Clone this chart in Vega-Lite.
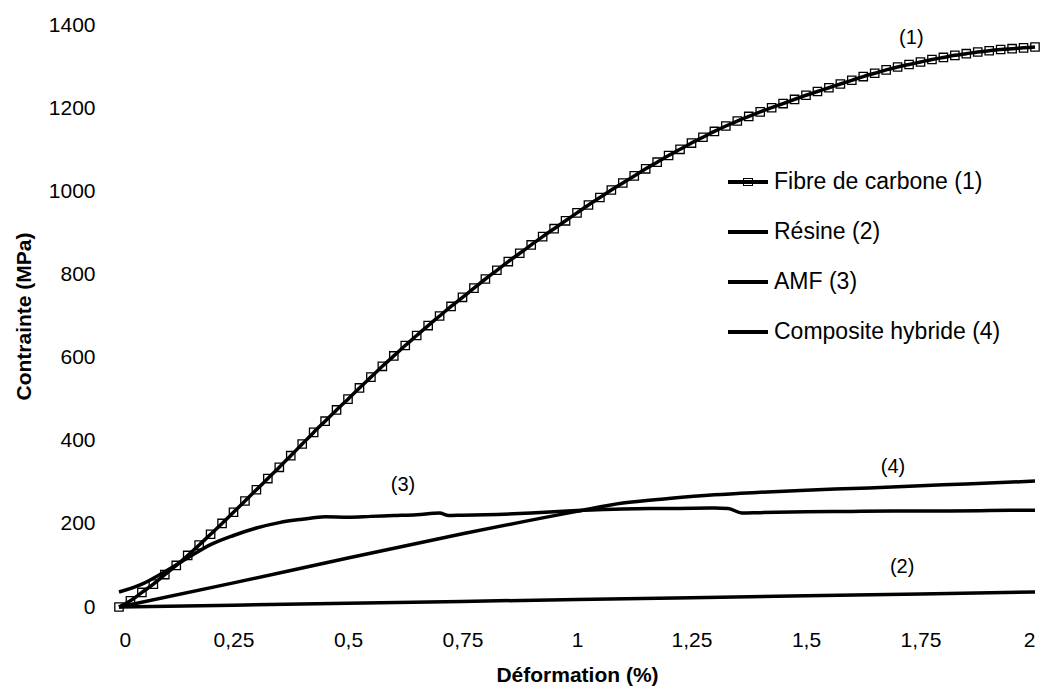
{
  "$schema": "https://vega.github.io/schema/vega-lite/v6.json",
  "width": 916,
  "height": 582,
  "autosize": {"type": "none"},
  "padding": {"left": 119, "top": 25, "right": 11, "bottom": 87},
  "background": "white",
  "config": {
    "view": {"stroke": null},
    "font": "Liberation Sans"
  },
  "datasets": {
    "curves": [
      {"serie": "Fibre de carbone (1)", "def": 0, "contrainte": 0},
      {"serie": "Fibre de carbone (1)", "def": 0.025, "contrainte": 15},
      {"serie": "Fibre de carbone (1)", "def": 0.05, "contrainte": 35},
      {"serie": "Fibre de carbone (1)", "def": 0.075, "contrainte": 55},
      {"serie": "Fibre de carbone (1)", "def": 0.1, "contrainte": 78},
      {"serie": "Fibre de carbone (1)", "def": 0.125, "contrainte": 100},
      {"serie": "Fibre de carbone (1)", "def": 0.15, "contrainte": 124},
      {"serie": "Fibre de carbone (1)", "def": 0.175, "contrainte": 149},
      {"serie": "Fibre de carbone (1)", "def": 0.2, "contrainte": 175},
      {"serie": "Fibre de carbone (1)", "def": 0.225, "contrainte": 201},
      {"serie": "Fibre de carbone (1)", "def": 0.25, "contrainte": 228},
      {"serie": "Fibre de carbone (1)", "def": 0.275, "contrainte": 255},
      {"serie": "Fibre de carbone (1)", "def": 0.3, "contrainte": 282},
      {"serie": "Fibre de carbone (1)", "def": 0.325, "contrainte": 309},
      {"serie": "Fibre de carbone (1)", "def": 0.35, "contrainte": 336},
      {"serie": "Fibre de carbone (1)", "def": 0.375, "contrainte": 364},
      {"serie": "Fibre de carbone (1)", "def": 0.4, "contrainte": 392},
      {"serie": "Fibre de carbone (1)", "def": 0.425, "contrainte": 420},
      {"serie": "Fibre de carbone (1)", "def": 0.45, "contrainte": 447},
      {"serie": "Fibre de carbone (1)", "def": 0.475, "contrainte": 474},
      {"serie": "Fibre de carbone (1)", "def": 0.5, "contrainte": 500},
      {"serie": "Fibre de carbone (1)", "def": 0.525, "contrainte": 527},
      {"serie": "Fibre de carbone (1)", "def": 0.55, "contrainte": 553},
      {"serie": "Fibre de carbone (1)", "def": 0.575, "contrainte": 579},
      {"serie": "Fibre de carbone (1)", "def": 0.6, "contrainte": 604},
      {"serie": "Fibre de carbone (1)", "def": 0.625, "contrainte": 629},
      {"serie": "Fibre de carbone (1)", "def": 0.65, "contrainte": 653},
      {"serie": "Fibre de carbone (1)", "def": 0.675, "contrainte": 677},
      {"serie": "Fibre de carbone (1)", "def": 0.7, "contrainte": 700},
      {"serie": "Fibre de carbone (1)", "def": 0.725, "contrainte": 723},
      {"serie": "Fibre de carbone (1)", "def": 0.75, "contrainte": 745},
      {"serie": "Fibre de carbone (1)", "def": 0.775, "contrainte": 767},
      {"serie": "Fibre de carbone (1)", "def": 0.8, "contrainte": 789},
      {"serie": "Fibre de carbone (1)", "def": 0.825, "contrainte": 810},
      {"serie": "Fibre de carbone (1)", "def": 0.85, "contrainte": 831},
      {"serie": "Fibre de carbone (1)", "def": 0.875, "contrainte": 851},
      {"serie": "Fibre de carbone (1)", "def": 0.9, "contrainte": 871},
      {"serie": "Fibre de carbone (1)", "def": 0.925, "contrainte": 891},
      {"serie": "Fibre de carbone (1)", "def": 0.95, "contrainte": 910},
      {"serie": "Fibre de carbone (1)", "def": 0.975, "contrainte": 929},
      {"serie": "Fibre de carbone (1)", "def": 1.0, "contrainte": 948},
      {"serie": "Fibre de carbone (1)", "def": 1.025, "contrainte": 967},
      {"serie": "Fibre de carbone (1)", "def": 1.05, "contrainte": 985},
      {"serie": "Fibre de carbone (1)", "def": 1.075, "contrainte": 1003},
      {"serie": "Fibre de carbone (1)", "def": 1.1, "contrainte": 1020},
      {"serie": "Fibre de carbone (1)", "def": 1.125, "contrainte": 1037},
      {"serie": "Fibre de carbone (1)", "def": 1.15, "contrainte": 1054},
      {"serie": "Fibre de carbone (1)", "def": 1.175, "contrainte": 1070},
      {"serie": "Fibre de carbone (1)", "def": 1.2, "contrainte": 1086},
      {"serie": "Fibre de carbone (1)", "def": 1.225, "contrainte": 1101},
      {"serie": "Fibre de carbone (1)", "def": 1.25, "contrainte": 1116},
      {"serie": "Fibre de carbone (1)", "def": 1.275, "contrainte": 1130},
      {"serie": "Fibre de carbone (1)", "def": 1.3, "contrainte": 1144},
      {"serie": "Fibre de carbone (1)", "def": 1.325, "contrainte": 1157},
      {"serie": "Fibre de carbone (1)", "def": 1.35, "contrainte": 1169},
      {"serie": "Fibre de carbone (1)", "def": 1.375, "contrainte": 1180},
      {"serie": "Fibre de carbone (1)", "def": 1.4, "contrainte": 1191},
      {"serie": "Fibre de carbone (1)", "def": 1.425, "contrainte": 1201},
      {"serie": "Fibre de carbone (1)", "def": 1.45, "contrainte": 1211},
      {"serie": "Fibre de carbone (1)", "def": 1.475, "contrainte": 1221},
      {"serie": "Fibre de carbone (1)", "def": 1.5, "contrainte": 1231},
      {"serie": "Fibre de carbone (1)", "def": 1.525, "contrainte": 1240},
      {"serie": "Fibre de carbone (1)", "def": 1.55, "contrainte": 1249},
      {"serie": "Fibre de carbone (1)", "def": 1.575, "contrainte": 1258},
      {"serie": "Fibre de carbone (1)", "def": 1.6, "contrainte": 1267},
      {"serie": "Fibre de carbone (1)", "def": 1.625, "contrainte": 1276},
      {"serie": "Fibre de carbone (1)", "def": 1.65, "contrainte": 1284},
      {"serie": "Fibre de carbone (1)", "def": 1.675, "contrainte": 1292},
      {"serie": "Fibre de carbone (1)", "def": 1.7, "contrainte": 1299},
      {"serie": "Fibre de carbone (1)", "def": 1.725, "contrainte": 1305},
      {"serie": "Fibre de carbone (1)", "def": 1.75, "contrainte": 1311},
      {"serie": "Fibre de carbone (1)", "def": 1.775, "contrainte": 1317},
      {"serie": "Fibre de carbone (1)", "def": 1.8, "contrainte": 1322},
      {"serie": "Fibre de carbone (1)", "def": 1.825, "contrainte": 1327},
      {"serie": "Fibre de carbone (1)", "def": 1.85, "contrainte": 1331},
      {"serie": "Fibre de carbone (1)", "def": 1.875, "contrainte": 1335},
      {"serie": "Fibre de carbone (1)", "def": 1.9, "contrainte": 1338},
      {"serie": "Fibre de carbone (1)", "def": 1.925, "contrainte": 1341},
      {"serie": "Fibre de carbone (1)", "def": 1.95, "contrainte": 1343},
      {"serie": "Fibre de carbone (1)", "def": 1.975, "contrainte": 1345},
      {"serie": "Fibre de carbone (1)", "def": 2.0, "contrainte": 1347},
      {"serie": "Résine (2)", "def": 0, "contrainte": 0},
      {"serie": "Résine (2)", "def": 0.5, "contrainte": 9},
      {"serie": "Résine (2)", "def": 1.0, "contrainte": 18},
      {"serie": "Résine (2)", "def": 1.5, "contrainte": 27},
      {"serie": "Résine (2)", "def": 2.0, "contrainte": 36},
      {"serie": "AMF (3)", "def": 0, "contrainte": 36},
      {"serie": "AMF (3)", "def": 0.05, "contrainte": 55},
      {"serie": "AMF (3)", "def": 0.1, "contrainte": 85},
      {"serie": "AMF (3)", "def": 0.15, "contrainte": 118},
      {"serie": "AMF (3)", "def": 0.2, "contrainte": 150},
      {"serie": "AMF (3)", "def": 0.25, "contrainte": 172},
      {"serie": "AMF (3)", "def": 0.3, "contrainte": 190},
      {"serie": "AMF (3)", "def": 0.35, "contrainte": 203},
      {"serie": "AMF (3)", "def": 0.4, "contrainte": 211},
      {"serie": "AMF (3)", "def": 0.45, "contrainte": 217},
      {"serie": "AMF (3)", "def": 0.5, "contrainte": 216},
      {"serie": "AMF (3)", "def": 0.55, "contrainte": 218},
      {"serie": "AMF (3)", "def": 0.6, "contrainte": 220},
      {"serie": "AMF (3)", "def": 0.65, "contrainte": 222},
      {"serie": "AMF (3)", "def": 0.7, "contrainte": 226},
      {"serie": "AMF (3)", "def": 0.72, "contrainte": 220},
      {"serie": "AMF (3)", "def": 0.75, "contrainte": 221},
      {"serie": "AMF (3)", "def": 0.8, "contrainte": 222},
      {"serie": "AMF (3)", "def": 0.9, "contrainte": 226},
      {"serie": "AMF (3)", "def": 1.0, "contrainte": 232},
      {"serie": "AMF (3)", "def": 1.1, "contrainte": 236},
      {"serie": "AMF (3)", "def": 1.2, "contrainte": 237},
      {"serie": "AMF (3)", "def": 1.3, "contrainte": 238},
      {"serie": "AMF (3)", "def": 1.33, "contrainte": 237},
      {"serie": "AMF (3)", "def": 1.36, "contrainte": 226},
      {"serie": "AMF (3)", "def": 1.4, "contrainte": 227},
      {"serie": "AMF (3)", "def": 1.5, "contrainte": 229},
      {"serie": "AMF (3)", "def": 1.6, "contrainte": 230},
      {"serie": "AMF (3)", "def": 1.7, "contrainte": 231},
      {"serie": "AMF (3)", "def": 1.8, "contrainte": 231},
      {"serie": "AMF (3)", "def": 1.9, "contrainte": 232},
      {"serie": "AMF (3)", "def": 2.0, "contrainte": 233},
      {"serie": "Composite hybride (4)", "def": 0, "contrainte": 0},
      {"serie": "Composite hybride (4)", "def": 0.25, "contrainte": 58},
      {"serie": "Composite hybride (4)", "def": 0.5, "contrainte": 118},
      {"serie": "Composite hybride (4)", "def": 0.75, "contrainte": 176},
      {"serie": "Composite hybride (4)", "def": 1.0, "contrainte": 230},
      {"serie": "Composite hybride (4)", "def": 1.1, "contrainte": 250},
      {"serie": "Composite hybride (4)", "def": 1.2, "contrainte": 261},
      {"serie": "Composite hybride (4)", "def": 1.3, "contrainte": 270},
      {"serie": "Composite hybride (4)", "def": 1.4, "contrainte": 276},
      {"serie": "Composite hybride (4)", "def": 1.5, "contrainte": 281},
      {"serie": "Composite hybride (4)", "def": 1.6, "contrainte": 285},
      {"serie": "Composite hybride (4)", "def": 1.7, "contrainte": 289},
      {"serie": "Composite hybride (4)", "def": 1.8, "contrainte": 294},
      {"serie": "Composite hybride (4)", "def": 1.9, "contrainte": 298},
      {"serie": "Composite hybride (4)", "def": 2.0, "contrainte": 303}
    ],
    "labels": [
      {"texte": "(1)", "def": 1.73, "contrainte": 1369},
      {"texte": "(2)", "def": 1.71, "contrainte": 96},
      {"texte": "(3)", "def": 0.62, "contrainte": 293},
      {"texte": "(4)", "def": 1.69, "contrainte": 337}
    ]
  },
  "layer": [
    {
      "data": {"name": "curves"},
      "mark": {"type": "line", "strokeWidth": 3.5, "interpolate": "monotone"},
      "encoding": {
        "x": {
          "field": "def", "type": "quantitative",
          "scale": {"domain": [0, 2], "nice": false, "zero": false},
          "axis": {
            "title": "Déformation (%)",
            "values": [0, 0.25, 0.5, 0.75, 1, 1.25, 1.5, 1.75, 2],
            "labelExpr": "replace(toString(datum.value), '.', ',')",
            "domain": false, "ticks": false, "tickSize": 0, "grid": false,
            "labelPadding": 22, "labelFontSize": 21, "labelColor": "black",
            "titleFontSize": 21, "titleFontWeight": "bold", "titleColor": "black",
            "titlePadding": 14
          }
        },
        "y": {
          "field": "contrainte", "type": "quantitative",
          "scale": {"domain": [0, 1400], "nice": false},
          "axis": {
            "title": "Contrainte (MPa)",
            "values": [0, 200, 400, 600, 800, 1000, 1200, 1400],
            "format": "d",
            "domain": false, "ticks": false, "tickSize": 0, "grid": false,
            "labelPadding": 24, "labelFontSize": 21, "labelColor": "black",
            "titleFontSize": 21, "titleFontWeight": "bold", "titleColor": "black",
            "titlePadding": 14
          }
        },
        "color": {
          "field": "serie", "type": "nominal",
          "scale": {
            "domain": ["Fibre de carbone (1)", "Résine (2)", "AMF (3)", "Composite hybride (4)"],
            "range": ["black", "black", "black", "black"]
          },
          "legend": {
            "title": null,
            "orient": "none",
            "legendX": 609,
            "legendY": 137,
            "padding": 0,
            "symbolType": "M-1,-0.1H1V0.1H-1Z",
            "symbolSize": 1600,
            "symbolStrokeWidth": 0,
            "symbolFillColor": "black",
            "labelFontSize": 23,
            "labelColor": "black",
            "labelLimit": 0,
            "labelOffset": 6,
            "rowPadding": 18,
            "encode": {
              "symbols": {
                "update": {
                  "shape": {"signal": "datum.value === 'Fibre de carbone (1)' ? 'M-1,-0.1H1V0.1H-1Z M-0.25,-0.2H0.25V0.2H-0.25Z M-0.2,-0.15V0.15H0.2V-0.15Z' : 'M-1,-0.1H1V0.1H-1Z'"},
                  "fill": {"value": "black"},
                  "strokeWidth": {"value": 0}
                }
              }
            }
          }
        },
        "detail": {"field": "serie"}
      }
    },
    {
      "data": {"name": "curves"},
      "transform": [{"filter": "datum.serie === 'Fibre de carbone (1)'"}],
      "mark": {"type": "point", "shape": "square", "filled": false, "stroke": "black", "strokeWidth": 1.3, "size": 70, "opacity": 1},
      "encoding": {
        "x": {"field": "def", "type": "quantitative"},
        "y": {"field": "contrainte", "type": "quantitative"}
      }
    },
    {
      "data": {"name": "labels"},
      "mark": {"type": "text", "fontSize": 20, "color": "black", "align": "center", "baseline": "middle"},
      "encoding": {
        "x": {"field": "def", "type": "quantitative"},
        "y": {"field": "contrainte", "type": "quantitative"},
        "text": {"field": "texte"}
      }
    }
  ]
}
